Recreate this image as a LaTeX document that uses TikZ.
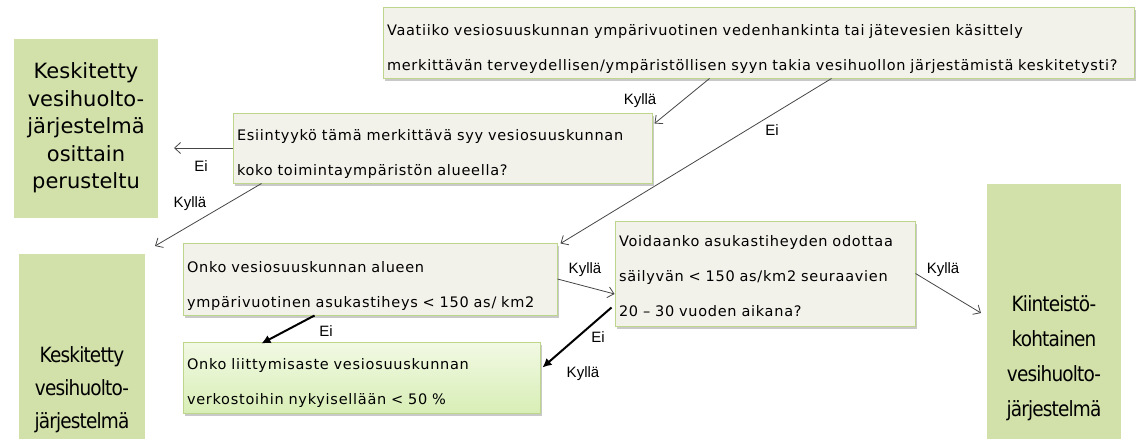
\documentclass[tikz,border=0pt]{standalone}
\usepackage{fontspec}
\setmainfont{DejaVu Sans}
\newfontfamily\qfont[LetterSpace=5]{DejaVu Sans}
\newfontfamily\lblfont{Liberation Sans}
\newfontfamily\widefont{DejaVu Sans}
\newfontfamily\narrowfont[FakeStretch=0.88,LetterSpace=-4]{DejaVu Sans}
\usetikzlibrary{shadows,arrows.meta,calc}

\definecolor{qfill}{RGB}{243,242,234}
\definecolor{qedge}{RGB}{190,214,140}
\definecolor{ofill}{RGB}{210,224,170}
\definecolor{gtop}{RGB}{242,249,228}
\definecolor{gbot}{RGB}{216,238,182}
\definecolor{thinline}{RGB}{70,70,70}

% invisible strut that pushes the first text line of a box down
\newcommand\toppad[1]{\rule{0pt}{#1}}

\tikzset{
  question/.style={draw=qedge, line width=1pt, fill=qfill,
    drop shadow={shadow xshift=2pt, shadow yshift=-2.5pt, opacity=0.3, fill=black!70},
    inner xsep=4pt, inner ysep=0pt, align=left,
    font={\qfont\fontsize{14.5}{35}\selectfont\hyphenpenalty=10000}},
  greenq/.style={question, fill=none, top color=gtop, bottom color=gbot},
  outcome/.style={fill=ofill, draw=white, line width=4pt,
    drop shadow={shadow xshift=1pt, shadow yshift=-1pt, opacity=0.12, fill=black},
    inner sep=0pt, align=center},
  answer/.style={font={\lblfont\fontsize{15}{15}\selectfont}, inner sep=0pt},
  thin/.style={draw=thinline, line width=0.8pt, -{Straight Barb[length=6pt,width=11pt]}},
  thick/.style={draw=black, line width=2pt, -{Latex[length=9pt,width=9pt]}}
}

\begin{document}
\begin{tikzpicture}[x=1pt, y=-1pt]
\useasboundingbox (0,0) rectangle (1136,439);
\clip (0,0) rectangle (1136,439);

% decision boxes
\node[question, minimum width=751pt, minimum height=71pt, text width=743pt] (q1) at (758.5,42.5)
  {\toppad{24pt}\mbox{Vaatiiko vesiosuuskunnan ympärivuotinen vedenhankinta tai jätevesien käsittely}\\
   \mbox{merkittävän terveydellisen/ympäristöllisen syyn takia vesihuollon järjestämistä keskitetysti?}};
\node[question, minimum width=419pt, minimum height=70pt, text width=411pt] (q2) at (442.5,148)
  {\toppad{24pt}Esiintyykö tämä merkittävä syy vesiosuuskunnan\\koko toimintaympäristön alueella?};
\node[question, minimum width=374pt, minimum height=72pt, text width=366pt] (q3) at (370,279)
  {\toppad{25pt}Onko vesiosuuskunnan alueen\\ympärivuotinen asukastiheys < 150 as/ km2};
\node[greenq, minimum width=357pt, minimum height=71pt, text width=349pt] (q4) at (361.5,377.5)
  {\toppad{23pt}Onko liittymisaste vesiosuuskunnan\\verkostoihin nykyisellään < 50 \%};
\node[question, minimum width=300pt, minimum height=105pt, text width=292pt] (q5) at (765,273.5)
  {\toppad{17pt}Voidaanko asukastiheyden odottaa\\säilyvän < 150 as/km2 seuraavien\\20 – 30 vuoden aikana?};

% outcome boxes
\node[outcome, minimum width=148pt, minimum height=183pt,
      font={\widefont\fontsize{21}{27.5}\selectfont}] (o1) at (86,128)
  {Keskitetty\\vesihuolto-\\järjestelmä\\osittain\\perusteltu};
\node[outcome, minimum width=130pt, minimum height=276pt,
      font={\narrowfont\fontsize{21}{33}\selectfont}] (o2) at (82,390)
  {Keskitetty\\vesihuolto-\\järjestelmä};
\node[outcome, minimum width=138pt, minimum height=352pt,
      font={\narrowfont\fontsize{21}{35}\selectfont}] (o3) at (1054,358)
  {Kiinteistö-\\kohtainen\\vesihuolto-\\järjestelmä};

% answer labels
\node[answer] (l1) at (640,101) {Kyllä};
\node[answer] (l2) at (772,130) {Ei};
\node[answer] (l3) at (201,166) {Ei};
\node[answer] (l4) at (190,204) {Kyllä};
\node[answer] (l5) at (326,331) {Ei};
\node[answer] (l6) at (585,270) {Kyllä};
\node[answer] (l7) at (598,337) {Ei};
\node[answer] (l8) at (583,374) {Kyllä};
\node[answer] (l9) at (943,270) {Kyllä};

% connectors
\draw[thin] ([xshift=327pt]q1.south west) -- ([xshift=2pt,yshift=-11pt]q2.north east);
\draw[thin] ([xshift=449pt]q1.south west) -- ([xshift=3pt,yshift=-1pt]q3.north east);
\draw[thin] (q2.west) -- ([xshift=12pt]o1.east |- q2.west);
\draw[thin] ([xshift=29pt]q2.south west) -- ([xshift=6pt,yshift=4pt]o2.north east);
\draw[thin] (q3.east) -- ([yshift=-20.5pt]q5.west);
\draw[thin] (q5.east) -- ([xshift=-2pt,yshift=45pt]o3.west);
\draw[thick] ([xshift=132pt]q3.south west) -- ([xshift=79pt,yshift=-2pt]q4.north west);
\draw[thick] ([xshift=-3pt,yshift=19pt]q5.south west) -- ([xshift=2pt,yshift=10pt]q4.east);
\end{tikzpicture}
\end{document}
